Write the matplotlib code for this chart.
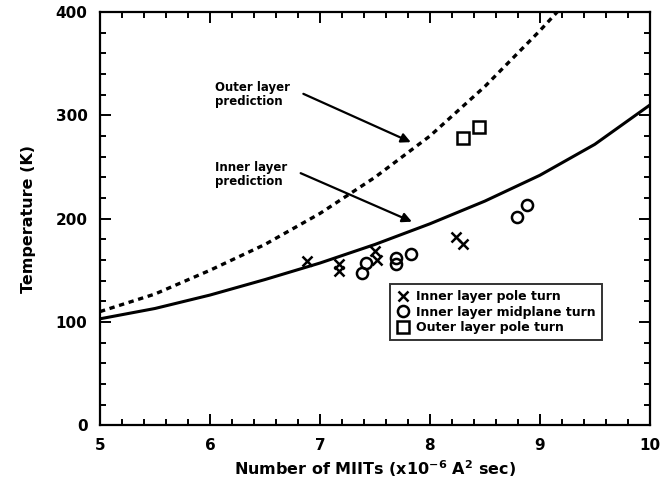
import numpy as np
import matplotlib
matplotlib.use('Agg')
import matplotlib.pyplot as plt
from matplotlib.ticker import MultipleLocator

plt.rcParams['font.family'] = ['DejaVu Sans']
plt.rcParams['font.weight'] = 'bold'
plt.rcParams['axes.labelweight'] = 'bold'
plt.rcParams['mathtext.fontset'] = 'custom'
plt.rcParams['mathtext.rm'] = 'DejaVu Sans:bold'
plt.rcParams['mathtext.bf'] = 'DejaVu Sans:bold'
plt.rcParams['mathtext.default'] = 'bf'

# prediction curves
inner_x = [5.0, 5.5, 6.0, 6.5, 7.0, 7.5, 8.0, 8.5, 9.0, 9.5, 10.0]
inner_t = [103, 113, 126, 141, 157, 175, 195, 217, 242, 272, 310]
outer_x = [5.0, 5.5, 6.0, 6.5, 7.0, 7.5, 8.0, 8.5, 9.0, 9.2]
outer_t = [110, 127, 150, 175, 205, 240, 280, 328, 382, 405]

# measured points
pole_x = [6.88, 7.17, 7.17, 7.50, 7.52, 8.24, 8.30]
pole_t = [159, 156, 149, 169, 160, 182, 175]
mid_x = [7.38, 7.42, 7.69, 7.69, 7.83, 8.79, 8.88]
mid_t = [147, 157, 162, 156, 166, 202, 213]
outer_pole_x = [8.30, 8.45]
outer_pole_t = [278, 289]

fig = plt.figure(figsize=(6.6, 4.87), dpi=100)
ax = fig.add_axes([0.1515, 0.127, 0.833, 0.848])

ax.plot(inner_x, inner_t, color='black', lw=2.2)
ax.plot(outer_x, outer_t, color='black', lw=2.4, ls=(0, (1.6, 1.4)))

ax.plot(pole_x, pole_t, 'x', color='black', ms=7, mew=1.8, label='Inner layer pole turn')
ax.plot(mid_x, mid_t, 'o', mfc='none', mec='black', ms=8, mew=1.8, label='Inner layer midplane turn')
ax.plot(outer_pole_x, outer_pole_t, 's', mfc='none', mec='black', ms=8, mew=1.8, label='Outer layer pole turn')

arrow = dict(arrowstyle='-|>', color='black', lw=1.6, mutation_scale=14)
ax.annotate('Outer layer\nprediction', xy=(7.85, 273), xytext=(6.05, 320),
            fontsize=8.5, va='center', ha='left', linespacing=1.1,
            arrowprops=dict(arrow, relpos=(1.0, 0.75), shrinkA=8))
ax.annotate('Inner layer\nprediction', xy=(7.86, 196), xytext=(6.05, 243),
            fontsize=8.5, va='center', ha='left', linespacing=1.1,
            arrowprops=dict(arrow, relpos=(1.0, 0.75), shrinkA=8))

ax.set_xlim(5, 10)
ax.set_ylim(0, 400)
ax.xaxis.set_major_locator(MultipleLocator(1))
ax.xaxis.set_minor_locator(MultipleLocator(0.2))
ax.yaxis.set_major_locator(MultipleLocator(100))
ax.yaxis.set_minor_locator(MultipleLocator(20))
ax.tick_params(which='both', direction='in', top=True, right=True, labelsize=11, width=1.4)
ax.tick_params(which='major', length=8, pad=9)
ax.tick_params(which='minor', length=4)
for s in ax.spines.values():
    s.set_linewidth(1.6)

ax.set_xlabel('Number of MIITs (x10$^{-6}$ A$^{2}$ sec)', fontsize=11.5, labelpad=4)
ax.set_ylabel('Temperature (K)', fontsize=11.5, labelpad=14)

leg = ax.legend(loc='lower right', bbox_to_anchor=(0.925, 0.19), fontsize=9, frameon=True,
                fancybox=False, edgecolor='black', handlelength=1.0, handletextpad=0.6,
                borderpad=0.5, labelspacing=0.2)
leg.get_frame().set_linewidth(1.4)

fig.savefig('out.png', dpi=100)
